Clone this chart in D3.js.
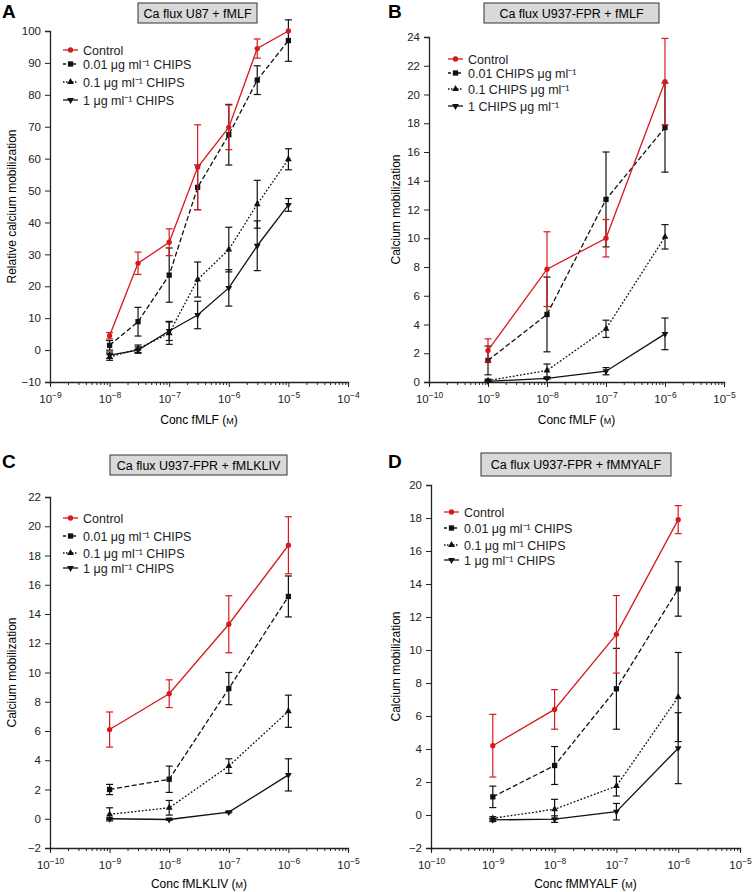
<!DOCTYPE html>
<meta charset="utf-8">
<style>
body { margin: 0; background: #fff; }
svg { font-family: "Liberation Sans", Arial, sans-serif; }
.axis path, .axis line { stroke: #222; }
.axis text { font-size: 11.5px; fill: #222; }
</style>
<svg width="752" height="892"></svg>
<script src="https://d3js.org/d3.v7.min.js"></script>
<script>

// ---- data ----
var xA = [1e-8, 3e-8, 1e-7, 3e-7, 1e-6, 3e-6, 1e-5];
var ctrlA = [4.5, 27.2, 33.8, 57.3, 69.8, 94.5, 100];
var ctrlAErr = [1, 3.5, 4.2, 13.3, 7, 3, 0];
var c001A = [1.5, 8.9, 23.5, 51, 67.5, 84.6, 97];
var c001AErr = [1.5, 4.5, 8.5, 7, 9.5, 4.5, 6.5];
var c01A = [-2.2, 0.4, 5.3, 22.1, 31.5, 45.7, 59.8];
var c01AErr = [1, 1.2, 3.5, 5.5, 7, 7.5, 3.3];
var c1A = [-1.6, 0, 6, 11, 19.5, 32.7, 45.5];
var c1AErr = [1, 1, 3, 4.3, 5.7, 7.8, 2];

var xBCD = [1e-9, 1e-8, 1e-7, 1e-6];

var ctrlB = [2.2, 7.85, 10, 20.9];
var ctrlBErr = [0.8, 2.6, 1.3, 3];
var c001B = [1.5, 4.7, 12.7, 17.7];
var c001BErr = [1, 2.6, 3.3, 3.1];
var c01B = [0.1, 0.8, 3.7, 10.1];
var c01BErr = [0.1, 0.45, 0.6, 0.85];
var c1B = [0.05, 0.25, 0.75, 3.35];
var c1BErr = [0.05, 0.05, 0.25, 1.1];

var ctrlC = [6.1, 8.55, 13.3, 18.7];
var ctrlCErr = [1.2, 0.95, 1.95, 1.95];
var c001C = [2.0, 2.7, 8.9, 15.2];
var c001CErr = [0.35, 0.9, 1.1, 1.4];
var c01C = [0.3, 0.75, 3.6, 7.35];
var c01CErr = [0.45, 0.5, 0.5, 1.1];
var c1C = [0, -0.05, 0.45, 3.0];
var c1CErr = [0.05, 0.05, 0.05, 1.1];

var ctrlD = [4.2, 6.4, 10.95, 17.9];
var ctrlDErr = [1.9, 1.2, 2.35, 0.85];
var c001D = [1.1, 3.0, 7.65, 13.7];
var c001DErr = [0.65, 1.15, 2.45, 1.65];
var c01D = [-0.2, 0.35, 1.75, 7.15];
var c01DErr = [0.1, 0.6, 0.6, 2.7];
var c1D = [-0.3, -0.25, 0.2, 4.05];
var c1DErr = [0.1, 0.2, 0.5, 2.15];

var legendStd = ["Control", "0.01 \u03bcg ml\u207b\u00b9 CHIPS", "0.1 \u03bcg ml\u207b\u00b9 CHIPS", "1 \u03bcg ml\u207b\u00b9 CHIPS"];
var legendB = ["Control", "0.01 CHIPS \u03bcg ml\u207b\u00b9", "0.1 CHIPS \u03bcg ml\u207b\u00b9", "1 CHIPS \u03bcg ml\u207b\u00b9"];

// series styles: control, 0.01, 0.1, 1
var styles = [
  {color: "#d7191f", dash: null, sym: d3.symbolCircle, size: 22},
  {color: "#111", dash: "5,2.5", sym: d3.symbolSquare, size: 28},
  {color: "#111", dash: "1.8,1.8", sym: d3.symbolTriangle, size: 20},
  {color: "#111", dash: null, sym: d3.symbolTriangle, size: 20, flip: true}
];

var panels = [
  {label: "A", lx: 2, ly: 18, title: "Ca flux U87 + fMLF", tb: [138, 3, 119, 20],
   x: xA, series: [[ctrlA, ctrlAErr], [c001A, c001AErr], [c01A, c01AErr], [c1A, c1AErr]],
   xd: [1e-9, 1e-4], xr: [50, 348], yd: [-10, 100], yr: [382, 31], yticks: d3.range(-10, 101, 10),
   ylab: "Relative calcium mobilization", ylx: 12, xlab: "Conc fMLF", xly: 424,
   legend: legendStd, legX: 63, legY: [50, 64, 82, 100]},
  {label: "B", lx: 388, ly: 18, title: "Ca flux U937-FPR + fMLF", tb: [484, 3, 175, 20],
   x: xBCD, series: [[ctrlB, ctrlBErr], [c001B, c001BErr], [c01B, c01BErr], [c1B, c1BErr]],
   xd: [1e-10, 1e-5], xr: [429, 724], yd: [0, 24], yr: [382, 37], yticks: d3.range(0, 25, 2),
   ylab: "Calcium mobilization", ylx: 396, xlab: "Conc fMLF", xly: 424,
   legend: legendB, legX: 448, legY: [59, 73, 89, 106]},
  {label: "C", lx: 2, ly: 468, title: "Ca flux U937-FPR + fMLKLIV", tb: [110, 455, 177, 20],
   x: xBCD, series: [[ctrlC, ctrlCErr], [c001C, c001CErr], [c01C, c01CErr], [c1C, c1CErr]],
   xd: [1e-10, 1e-5], xr: [50, 348], yd: [-2, 22], yr: [848, 497], yticks: d3.range(-2, 23, 2),
   ylab: "Calcium mobilization", ylx: 12, xlab: "Conc fMLKLIV", xly: 888,
   legend: legendStd, legX: 63, legY: [518, 536, 553, 568]},
  {label: "D", lx: 388, ly: 468, title: "Ca flux U937-FPR + fMMYALF", tb: [481, 453, 190, 23],
   x: xBCD, series: [[ctrlD, ctrlDErr], [c001D, c001DErr], [c01D, c01DErr], [c1D, c1DErr]],
   xd: [1e-10, 1e-5], xr: [431, 740], yd: [-2, 20], yr: [848, 485], yticks: d3.range(-2, 21, 2),
   ylab: "Calcium mobilization", ylx: 396, xlab: "Conc fMMYALF", xly: 888,
   legend: legendStd, legX: 444, legY: [512, 528, 545, 560]}
];

var svg = d3.select("svg");

panels.forEach(function(p) {
  var g = svg.append("g");
  var x = d3.scaleLog().domain(p.xd).range(p.xr);
  var y = d3.scaleLinear().domain(p.yd).range(p.yr);

  // panel letter
  g.append("text").attr("x", p.lx).attr("y", p.ly)
    .attr("font-size", "19px").attr("font-weight", "bold").text(p.label);

  // title box
  g.append("rect").attr("x", p.tb[0]).attr("y", p.tb[1]).attr("width", p.tb[2]).attr("height", p.tb[3])
    .attr("fill", "#d9d9d9").attr("stroke", "#333").attr("stroke-width", 1);
  g.append("text").attr("x", p.tb[0] + p.tb[2] / 2).attr("y", p.tb[1] + p.tb[3] / 2 + 4.5)
    .attr("text-anchor", "middle").attr("font-size", "12.5px").text(p.title);

  // y axis
  g.append("g").attr("class", "axis")
    .attr("transform", "translate(" + p.xr[0] + ",0)")
    .call(d3.axisLeft(y).tickValues(p.yticks).tickSize(5).tickPadding(4)
      .tickFormat(function(d) { return d < 0 ? "\u2212" + Math.abs(d) : d; }))
    .call(function(a) { a.select(".domain").attr("stroke-width", 1.3); });

  // x axis with major and minor ticks
  var lo = Math.log10(p.xd[0]), hi = Math.log10(p.xd[1]);
  var minor = [];
  for (var e = lo; e < hi; e++) for (var k = 2; k <= 9; k++) minor.push(k * Math.pow(10, e));
  var ax = g.append("g").attr("class", "axis").attr("transform", "translate(0," + p.yr[0] + ")");
  ax.call(d3.axisBottom(x).tickValues(minor).tickSize(3).tickFormat(""))
    .call(function(a) { a.select(".domain").attr("stroke-width", 1.3); });
  var ax2 = g.append("g").attr("class", "axis").attr("transform", "translate(0," + p.yr[0] + ")");
  ax2.call(d3.axisBottom(x).tickValues(d3.range(lo, hi + 1).map(function(e) { return Math.pow(10, e); }))
    .tickSize(5).tickPadding(7).tickFormat(""));
  ax2.select(".domain").remove();
  ax2.selectAll(".tick").append("text").attr("y", 21).attr("text-anchor", "middle")
    .each(function(d) {
      var t = d3.select(this);
      t.append("tspan").text("10");
      t.append("tspan").attr("dy", "-5").attr("font-size", "8.5px").text("\u2212" + Math.round(-Math.log10(d)));
    });

  // axis labels
  var xl = g.append("text").attr("x", (p.xr[0] + p.xr[1]) / 2).attr("y", p.xly)
    .attr("text-anchor", "middle").attr("font-size", "12px");
  xl.append("tspan").text(p.xlab + " (");
  xl.append("tspan").attr("font-size", "9px").text("M");
  xl.append("tspan").text(")");
  g.append("text").attr("transform", "translate(" + p.ylx + "," + (p.yr[0] + p.yr[1]) / 2 + ") rotate(-90)")
    .attr("text-anchor", "middle").attr("dy", "0.35em").attr("font-size", "12px").text(p.ylab);

  // series: draw treated first, control on top
  [3, 2, 1, 0].forEach(function(si) {
    var st = styles[si], vals = p.series[si][0], errs = p.series[si][1];
    var pts = p.x.map(function(xv, i) { return {x: xv, y: vals[i], e: errs[i]}; });
    var line = d3.line().x(function(d) { return x(d.x); }).y(function(d) { return y(d.y); });
    g.append("path").datum(pts).attr("d", line).attr("fill", "none")
      .attr("stroke", st.color).attr("stroke-width", 1.3).attr("stroke-dasharray", st.dash);
    var eb = g.append("g").attr("stroke", st.color).attr("stroke-width", 1.2);
    pts.forEach(function(d) {
      if (d.e <= 0) return;
      var cx = x(d.x), t = y(d.y + d.e), b = y(d.y - d.e);
      eb.append("line").attr("x1", cx).attr("x2", cx).attr("y1", t).attr("y2", b);
      eb.append("line").attr("x1", cx - 3.5).attr("x2", cx + 3.5).attr("y1", t).attr("y2", t);
      eb.append("line").attr("x1", cx - 3.5).attr("x2", cx + 3.5).attr("y1", b).attr("y2", b);
    });
    g.selectAll(null).data(pts).enter().append("path")
      .attr("d", d3.symbol().type(st.sym).size(st.size))
      .attr("transform", function(d) { return "translate(" + x(d.x) + "," + y(d.y) + ")" + (st.flip ? " rotate(180)" : ""); })
      .attr("fill", st.color);
  });

  // legend
  p.legend.forEach(function(txt, i) {
    var st = styles[i], ly = p.legY[i];
    g.append("line").attr("x1", p.legX).attr("x2", p.legX + 15).attr("y1", ly).attr("y2", ly)
      .attr("stroke", st.color).attr("stroke-width", 1.3).attr("stroke-dasharray", st.dash ? (i === 1 ? "3,2" : "1.5,1.5") : null);
    g.append("path").attr("d", d3.symbol().type(st.sym).size(st.size))
      .attr("transform", "translate(" + (p.legX + 7.5) + "," + ly + ")" + (st.flip ? " rotate(180)" : ""))
      .attr("fill", st.color);
    g.append("text").attr("x", p.legX + 20).attr("y", ly + 4.5).attr("font-size", "12.5px").attr("fill", "#222").text(txt);
  });
});

</script>
